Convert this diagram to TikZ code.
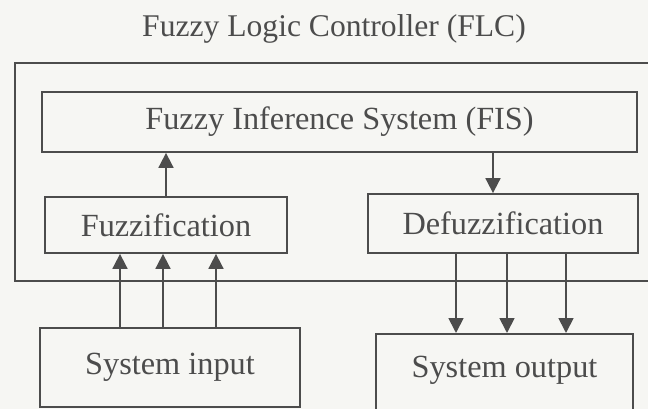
\documentclass[tikz,border=0pt]{standalone}
\usepackage{fontspec}
\setmainfont{Liberation Serif}
\usetikzlibrary{arrows.meta}
\definecolor{ink}{HTML}{4C4C4C}
\definecolor{paper}{HTML}{F6F6F3}
\begin{document}
\begin{tikzpicture}[x=1pt,y=-1pt,
  box/.style={draw=ink, line width=1.8pt, rectangle, inner sep=0pt, text=ink,
              font=\fontsize{32.3}{36}\selectfont},
  lbl/.style={text=ink, inner sep=0pt, font=\fontsize{32.3}{36}\selectfont},
  flow/.style={draw=ink, line width=1.8pt, -{Triangle[width=15pt,length=15pt]}}]
  % canvas
  \fill[paper] (0,0) rectangle (648,409);
  \useasboundingbox (0,0) rectangle (648,409);
  \clip (0,0) rectangle (648,409);

  % title and the controller frame (open past the right edge)
  \node[lbl, anchor=base, font=\fontsize{31.6}{36}\selectfont] (title) at (334,37) {Fuzzy Logic Controller (FLC)};
  \node[box, minimum width=665pt, minimum height=218pt] (flc) at (347.5,172) {};

  % inner blocks
  \node[box, minimum width=595pt, minimum height=60pt] (fis) at (339.5,122) {Fuzzy Inference System (FIS)};
  \node[box, minimum width=242pt, minimum height=56pt] (fuzz) at (166,225) {Fuzzification};
  \node[box, minimum width=270pt, minimum height=59pt] (defuzz) at (503,223.5) {Defuzzification};

  % external blocks
  \node[box, minimum width=260pt, minimum height=79pt] (sysin) at (170,367.5) {System input};
  \node[box, minimum width=257pt, minimum height=110pt, anchor=north] (sysout) at (504.5,333) {};
  \node[lbl] (outtext) at ([yshift=-37pt]sysout.north) {System output};

  % connectors inside the controller
  \draw[flow] (fuzz.north) -- (fuzz.north |- fis.south);
  \draw[flow] (fis.south -| 493,0) -- (defuzz.north -| 493,0);

  % input and output lines
  \foreach \xx in {120,163,216}
    \draw[flow] (sysin.north -| \xx,0) -- (fuzz.south -| \xx,0);
  \foreach \xx in {456,507,566}
    \draw[flow] (defuzz.south -| \xx,0) -- (sysout.north -| \xx,0);
\end{tikzpicture}
\end{document}
